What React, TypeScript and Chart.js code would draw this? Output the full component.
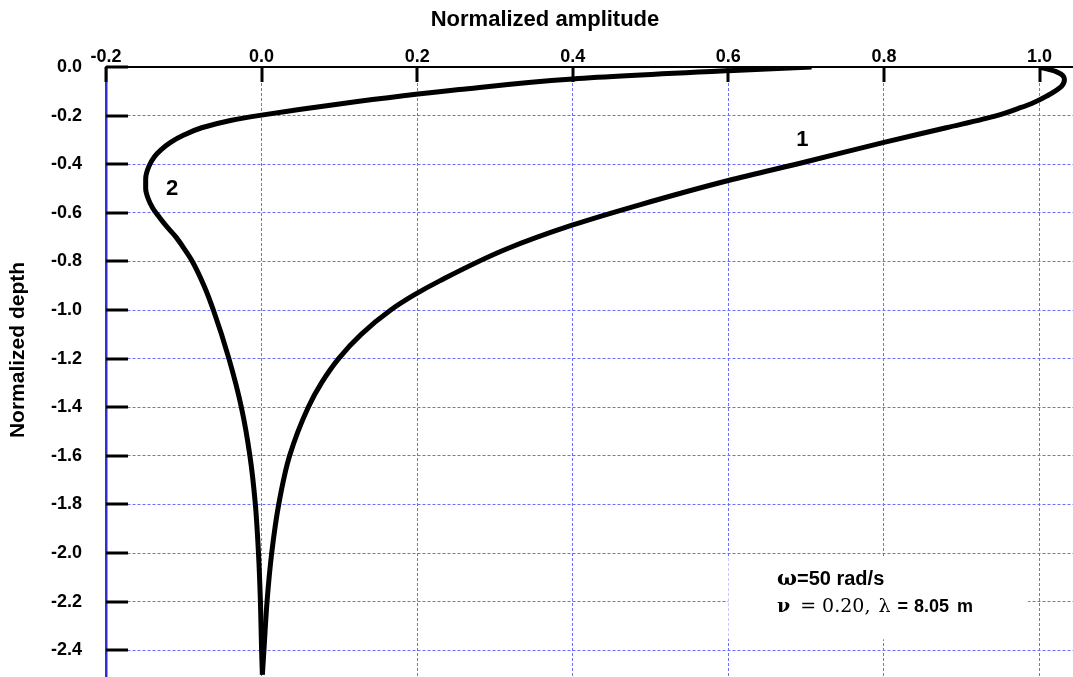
import React, { useEffect, useRef } from "react";
import { Chart, registerables } from "chart.js";

Chart.register(...registerables);

// Profile 1: normalized amplitude against normalized depth
const curve1Amplitude = [1.0, 1.022, 1.032, 1.028, 1.009, 0.99, 0.973, 0.945, 0.88, 0.8, 0.7, 0.6, 0.486, 0.4, 0.314, 0.229, 0.195, 0.166, 0.128, 0.099, 0.077, 0.06, 0.036, 0.022, 0.013, 0.007, 0.003, 0.001];
const curve1Depth = [0.0, -0.02, -0.05, -0.08, -0.12, -0.15, -0.17, -0.2, -0.25, -0.31, -0.39, -0.467, -0.567, -0.65, -0.75, -0.88, -0.94, -1.0, -1.1, -1.2, -1.3, -1.4, -1.6, -1.8, -2.0, -2.2, -2.4, -2.5];

// Profile 2
const curve2Amplitude = [0.707, 0.6, 0.4, 0.254, 0.1, 0.0, -0.04, -0.077, -0.1, -0.117, -0.129, -0.138, -0.145, -0.149, -0.149, -0.146, -0.14, -0.131, -0.121, -0.11, -0.099, -0.089, -0.074, -0.062, -0.042, -0.026, -0.015, -0.008, -0.004, -0.0015, 0.0, 0.001];
const curve2Depth = [0.0, -0.015, -0.049, -0.093, -0.152, -0.198, -0.22, -0.25, -0.28, -0.31, -0.34, -0.37, -0.41, -0.46, -0.5, -0.54, -0.58, -0.62, -0.66, -0.7, -0.75, -0.8, -0.9, -1.0, -1.2, -1.4, -1.6, -1.8, -2.0, -2.2, -2.4, -2.5];

// Axis ticks
const xTickValues = [-0.2, 0.0, 0.2, 0.4, 0.6, 0.8, 1.0];
const yTickValues = [0.0, -0.2, -0.4, -0.6, -0.8, -1.0, -1.2, -1.4, -1.6, -1.8, -2.0, -2.2, -2.4];

// Curve labels: text with the (amplitude, depth) where it sits
const curveLabels = [
  { text: "1", x: 0.695, y: -0.299 },
  { text: "2", x: -0.115, y: -0.503 },
];

// Parameter note: white panel corners and text anchor, in data units
const notePanel = { x0: 0.6, x1: 0.985, y0: -2.02, y1: -2.355 };
const noteAnchor = { x: 0.6625, line1: -2.13, line2: -2.2405 };

const SANS = "'Liberation Sans', Arial, Helvetica, sans-serif";
const SERIF = "'DejaVu Serif', 'Liberation Serif', serif";
const GRID_BLUE = "#6c6cff";

type Run = { text: string; font: string; gap?: number };

function drawRuns(ctx: CanvasRenderingContext2D, x: number, y: number, runs: Run[]) {
  let cx = x;
  for (const r of runs) {
    ctx.font = r.font;
    ctx.fillText(r.text, cx, y);
    cx += ctx.measureText(r.text).width + (r.gap ?? 0);
  }
}

const decorPlugin = {
  id: "depthProfileDecor",
  beforeDatasetsDraw(chart: any) {
    const { ctx, chartArea } = chart;
    const xs = chart.scales.x;
    const ys = chart.scales.y;
    ctx.save();

    // white panel behind the parameter note
    const px0 = xs.getPixelForValue(notePanel.x0);
    const px1 = xs.getPixelForValue(notePanel.x1);
    const py0 = ys.getPixelForValue(notePanel.y0);
    const py1 = ys.getPixelForValue(notePanel.y1);
    ctx.fillStyle = "#ffffff";
    ctx.fillRect(px0, py0, px1 - px0, py1 - py0);

    // tick marks pointing into the plot
    ctx.strokeStyle = "#000000";
    ctx.lineWidth = 3;
    for (const v of xTickValues) {
      const px = Math.round(xs.getPixelForValue(v));
      ctx.beginPath();
      ctx.moveTo(px, chartArea.top);
      ctx.lineTo(px, chartArea.top + 15);
      ctx.stroke();
    }
    for (const v of yTickValues) {
      const py = Math.round(ys.getPixelForValue(v));
      ctx.beginPath();
      ctx.moveTo(chartArea.left, py);
      ctx.lineTo(chartArea.left + 22, py);
      ctx.stroke();
    }

    // parameter note
    ctx.fillStyle = "#000000";
    ctx.textAlign = "left";
    ctx.textBaseline = "alphabetic";
    const nx = xs.getPixelForValue(noteAnchor.x);
    drawRuns(ctx, nx, ys.getPixelForValue(noteAnchor.line1), [
      { text: "\u03c9", font: `bold 21px ${SERIF}` },
      { text: "=50 rad/s", font: `bold 20px ${SANS}` },
    ]);
    drawRuns(ctx, nx, ys.getPixelForValue(noteAnchor.line2), [
      { text: "\u03bd", font: `bold 19px ${SERIF}`, gap: 10 },
      { text: "=", font: `19px ${SERIF}`, gap: 6 },
      { text: "0.20,", font: `19px ${SERIF}`, gap: 8 },
      { text: "\u03bb", font: `19px ${SERIF}`, gap: 7 },
      { text: "=", font: `bold 18px ${SANS}`, gap: 6 },
      { text: "8.05", font: `bold 18px ${SANS}`, gap: 8 },
      { text: "m", font: `bold 18px ${SANS}` },
    ]);

    // axis titles
    ctx.textAlign = "center";
    ctx.font = `bold 22px ${SANS}`;
    ctx.fillText("Normalized amplitude", 545, 26);
    ctx.font = `bold 21px ${SANS}`;
    ctx.save();
    ctx.translate(24, 350);
    ctx.rotate(-Math.PI / 2);
    ctx.fillText("Normalized depth", 0, 0);
    ctx.restore();

    ctx.restore();
  },
  afterDatasetsDraw(chart: any) {
    const { ctx } = chart;
    const xs = chart.scales.x;
    const ys = chart.scales.y;
    ctx.save();
    ctx.fillStyle = "#000000";
    ctx.font = `bold 22px ${SANS}`;
    ctx.textAlign = "center";
    ctx.textBaseline = "middle";
    for (const l of curveLabels) {
      ctx.fillText(l.text, xs.getPixelForValue(l.x), ys.getPixelForValue(l.y));
    }
    ctx.restore();
  },
};

const toPoints = (xs: number[], ys: number[]) => xs.map((x, i) => ({ x, y: ys[i] }));

const lineStyle = {
  borderColor: "#000000",
  borderWidth: 5,
  pointRadius: 0,
  fill: false,
  // depth is the running axis of each profile
  indexAxis: "y",
  cubicInterpolationMode: "monotone",
  borderJoinStyle: "round",
};

export default function App() {
  const canvasRef = useRef<HTMLCanvasElement | null>(null);

  useEffect(() => {
    const canvas = canvasRef.current;
    if (!canvas) return;
    const tickFont = { family: SANS, size: 18, weight: "bold" as const };
    const chart = new Chart(canvas, {
      type: "line",
      data: {
        datasets: [
          { label: "1", data: toPoints(curve1Amplitude, curve1Depth), ...lineStyle },
          { label: "2", data: toPoints(curve2Amplitude, curve2Depth), ...lineStyle },
        ],
      },
      options: {
        animation: false,
        responsive: false,
        devicePixelRatio: 1,
        events: [],
        layout: { padding: 0 },
        plugins: {
          legend: { display: false },
          tooltip: { enabled: false },
          title: { display: false },
        },
        scales: {
          x: {
            type: "linear",
            position: "top",
            min: -0.2,
            max: 1.043,
            afterBuildTicks: (s: any) => {
              s.ticks = xTickValues.map((value) => ({ value }));
            },
            afterFit: (s: any) => {
              s.height = 67;
              s.paddingLeft = 0;
              s.paddingRight = 0;
            },
            ticks: {
              callback: (v: any) => Number(v).toFixed(1),
              font: tickFont,
              color: "#000000",
              padding: -1,
              autoSkip: false,
              maxRotation: 0,
              minRotation: 0,
              includeBounds: false,
            },
            grid: { color: GRID_BLUE, lineWidth: 1, drawTicks: false },
            border: { display: true, color: "#000000", width: 2, dash: [3, 2] },
          },
          y: {
            type: "linear",
            position: "left",
            min: -2.51,
            max: 0,
            afterBuildTicks: (s: any) => {
              s.ticks = [...yTickValues].sort((a, b) => a - b).map((value) => ({ value }));
            },
            afterFit: (s: any) => {
              s.width = 106;
              s.paddingTop = 0;
              s.paddingBottom = 0;
            },
            ticks: {
              callback: (v: any) => Number(v).toFixed(1),
              font: tickFont,
              color: "#000000",
              padding: 24,
              autoSkip: false,
              includeBounds: false,
            },
            grid: { color: GRID_BLUE, lineWidth: 1, drawTicks: false },
            border: { display: true, color: "#2f2fd6", width: 2.5, dash: [3, 2] },
          },
        },
      },
      plugins: [decorPlugin],
    } as any);
    return () => chart.destroy();
  }, []);

  return (
    <div style={{ position: "absolute", left: 0, top: 0, width: 1073, height: 677, background: "#ffffff" }}>
      <canvas ref={canvasRef} width={1073} height={677} style={{ display: "block" }} />
    </div>
  );
}
